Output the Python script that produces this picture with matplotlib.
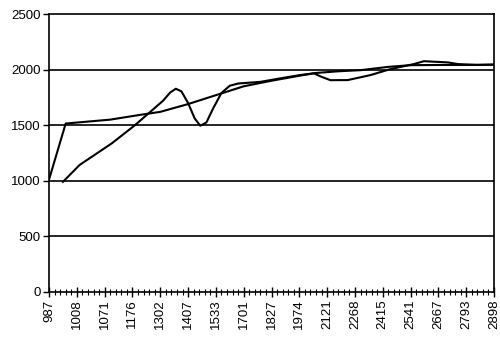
import numpy as np
import matplotlib
matplotlib.use('Agg')
import matplotlib.pyplot as plt

# category labels shown on the x axis (every 5th category of 81)
xlabels = ['987', '1008', '1071', '1176', '1302', '1407', '1533', '1701', '1827',
           '1974', '2121', '2268', '2415', '2541', '2667', '2793', '2898']
label_pos = list(range(0, 81, 5))

# series 1 - smooth curve with jump at start (category index, value)
s1_x = [0, 3, 11, 16, 20, 25, 30, 35, 40, 45, 48, 52, 56, 61, 65, 70, 75, 80]
s1_y = [1010, 1515, 1550, 1590, 1620, 1690, 1770, 1850, 1900, 1945, 1970, 1985, 1995, 2025, 2040, 2042, 2042, 2045]

# series 2 - rising line with a wiggle
s2_x = [2.5, 5.5, 11.3, 15.5, 20.5, 21.8, 22.8, 23.8, 25, 26.2, 27.2, 28.3, 29.5, 31, 32.5, 34, 38, 42, 45,
        47.6, 49, 50.6, 53.7, 57.8, 61.4, 65.6, 67.4, 71.7, 73.5, 77, 80]
s2_y = [990, 1142, 1337, 1502, 1720, 1795, 1828, 1805, 1700, 1560, 1495, 1525, 1650, 1790, 1855, 1875, 1890, 1925, 1950,
        1967, 1935, 1905, 1906, 1951, 2005, 2050, 2076, 2065, 2050, 2042, 2045]

plt.rcParams['font.family'] = ['Liberation Sans', 'DejaVu Sans']

fig = plt.figure(figsize=(5.0, 3.43), dpi=100)
ax = fig.add_axes([0.098, 0.149, 0.89, 0.81])

for yv in [500, 1000, 1500, 2000]:
    ax.axhline(yv, color='black', lw=1.2, zorder=1)

ax.plot(s1_x, s1_y, color='black', lw=1.5, zorder=3)
ax.plot(s2_x, s2_y, color='black', lw=1.5, zorder=3)

ax.set_xlim(0, 80)
ax.set_ylim(0, 2500)
ax.set_yticks([0, 500, 1000, 1500, 2000, 2500])
ax.set_xticks(label_pos)
ax.set_xticklabels(xlabels, rotation=90)
ax.set_xticks(np.arange(0, 81, 1), minor=True)

ax.tick_params(axis='y', direction='out', length=4, width=1, labelsize=9.5, pad=2)
ax.tick_params(axis='x', which='major', direction='inout', length=7, width=1, labelsize=9.5, pad=2)
ax.tick_params(axis='x', which='minor', direction='inout', length=4, width=0.8)

for sp in ax.spines.values():
    sp.set_linewidth(1.2)
    sp.set_color('black')

fig.savefig('out.png', dpi=100)
